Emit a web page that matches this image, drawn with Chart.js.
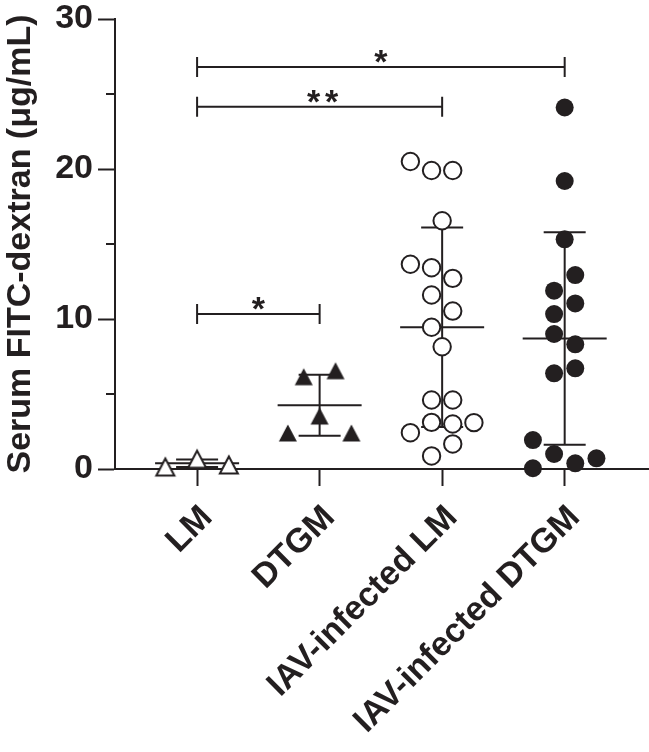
<!DOCTYPE html>
<html>
<head>
<meta charset="utf-8">
<script src="https://cdn.jsdelivr.net/npm/chart.js@4"></script>
<style>
  html, body { margin: 0; padding: 0; background: #fff; }
</style>
</head>
<body>
<canvas id="fitcChart" width="649" height="752"></canvas>
<script>
// group names on the x axis
const categories = ['LM', 'DTGM', 'IAV-infected LM', 'IAV-infected DTGM'];

// serum FITC-dextran per mouse (µg/mL) and the column slot each symbol sits in
const lmValues = [0.13, 0.65, 0.27];
const lmSlots = [-3, 0, 3];
const dtgmValues = [6.15, 6.55, 3.53, 2.4, 2.4];
const dtgmSlots = [-1.5, 1.5, 0, -3, 3];
const iavLmValues = [20.5, 19.9, 19.9, 16.55, 13.65, 13.42, 12.71, 11.6, 10.53, 9.45,
                     8.15, 4.6, 4.6, 3.11, 3.0, 3.09, 2.42, 1.67, 0.87];
const iavLmSlots = [-3, -1, 1, 0, -3, -1, 1, -1, 1, -1, 0, -1, 1, -1, 1, 3, -3, 1, -1];
const iavDtgmValues = [24.1, 19.2, 15.31, 12.93, 11.89, 11.04, 10.33, 9.0, 8.31, 6.71,
                       6.38, 1.93, 1.0, 0.71, 0.38, 0.05];
const iavDtgmSlots = [0, 0, 0, 1, -1, 1, -1, -1, 1, 1, -1, -3, -1, 3, 1, -3];

// mean and SD of each group
const groupMeans = [0.38, 4.25, 9.45, 8.7];
const groupSD = [0.25, 2.03, 6.65, 7.08];

// y axis ticks
const yTicks = [0, 10, 20, 30];
const yMinorTicks = [5, 15, 25];

// significance brackets (group numbers, height, label)
const bracketFrom = [1, 1, 1];
const bracketTo = [4, 3, 2];
const bracketY = [26.8, 24.15, 10.33];
const bracketLabels = ['*', '**', '*'];

const INK = '#231f20';
const FONT = "'Liberation Sans', Arial, Helvetica, sans-serif";
const SLOT = 0.0864; // width of one symbol column, in x axis units

function toPoints(values, slots, group) {
  return values.map((v, i) => ({ x: group + slots[i] * SLOT, y: v }));
}

// triangle symbols, centred on their bounding box like the original
function makeTriangle(filled) {
  const c = document.createElement('canvas');
  c.width = 24;
  c.height = 24;
  const ctx = c.getContext('2d');
  ctx.beginPath();
  ctx.moveTo(12, 3.5);
  ctx.lineTo(21, 20.5);
  ctx.lineTo(3, 20.5);
  ctx.closePath();
  if (filled) {
    ctx.fillStyle = INK;
    ctx.fill();
  } else {
    ctx.fillStyle = '#fff';
    ctx.fill();
    ctx.lineWidth = 2;
    ctx.strokeStyle = INK;
    ctx.stroke();
  }
  return c;
}

// mean line with SD whiskers, drawn under the symbols
const statsPlugin = {
  id: 'groupStats',
  beforeDatasetsDraw(chart) {
    const ctx = chart.ctx;
    const xs = chart.scales.x;
    const ys = chart.scales.y;
    ctx.save();
    ctx.strokeStyle = INK;
    ctx.lineWidth = 2;
    groupMeans.forEach((m, i) => {
      const x = xs.getPixelForValue(i + 1);
      const yMean = ys.getPixelForValue(m);
      const yHi = ys.getPixelForValue(m + groupSD[i]);
      const yLo = ys.getPixelForValue(Math.max(0, m - groupSD[i]));
      ctx.beginPath();
      ctx.moveTo(x - 42, yMean); ctx.lineTo(x + 42, yMean);
      ctx.moveTo(x, yHi); ctx.lineTo(x, yLo);
      ctx.moveTo(x - 21, yHi); ctx.lineTo(x + 21, yHi);
      ctx.moveTo(x - 21, yLo); ctx.lineTo(x + 21, yLo);
      ctx.stroke();
    });
    ctx.restore();
  }
};

// minor y ticks and significance brackets
const extrasPlugin = {
  id: 'extras',
  afterDraw(chart) {
    const ctx = chart.ctx;
    const xs = chart.scales.x;
    const ys = chart.scales.y;
    const left = chart.chartArea.left;
    ctx.save();
    ctx.strokeStyle = INK;
    ctx.fillStyle = INK;
    ctx.lineWidth = 2;
    yMinorTicks.forEach(v => {
      const y = ys.getPixelForValue(v);
      ctx.beginPath();
      ctx.moveTo(left - 9, y);
      ctx.lineTo(left, y);
      ctx.stroke();
    });
    ctx.font = 'bold 34px ' + FONT;
    ctx.textAlign = 'center';
    ctx.textBaseline = 'alphabetic';
    bracketY.forEach((v, i) => {
      const x1 = xs.getPixelForValue(bracketFrom[i]);
      const x2 = xs.getPixelForValue(bracketTo[i]);
      const y = ys.getPixelForValue(v);
      ctx.beginPath();
      ctx.moveTo(x1, y); ctx.lineTo(x2, y);
      ctx.moveTo(x1, y - 10); ctx.lineTo(x1, y + 10);
      ctx.moveTo(x2, y - 10); ctx.lineTo(x2, y + 10);
      ctx.stroke();
      const n = bracketLabels[i].length;
      const mid = (x1 + x2) / 2 + (n - 1) * 3;
      for (let k = 0; k < n; k++) {
        ctx.fillText('*', mid + (k - (n - 1) / 2) * 18, y + 6);
      }
    });
    ctx.restore();
  }
};

const chart = new Chart('fitcChart', {
  type: 'scatter',
  data: {
    datasets: [
      {
        label: categories[0],
        data: toPoints(lmValues, lmSlots, 1),
        pointStyle: makeTriangle(false),
      },
      {
        label: categories[1],
        data: toPoints(dtgmValues, dtgmSlots, 2),
        pointStyle: makeTriangle(true),
      },
      {
        label: categories[2],
        data: toPoints(iavLmValues, iavLmSlots, 3),
        pointStyle: 'circle',
        pointRadius: 8.7,
        borderWidth: 2,
        borderColor: INK,
        backgroundColor: '#fff',
      },
      {
        label: categories[3],
        data: toPoints(iavDtgmValues, iavDtgmSlots, 4),
        pointStyle: 'circle',
        pointRadius: 9,
        borderWidth: 0,
        borderColor: INK,
        backgroundColor: INK,
      }
    ]
  },
  options: {
    responsive: false,
    animation: false,
    devicePixelRatio: 1,
    clip: false,
    layout: {
      autoPadding: false,
      padding: { top: 19, right: 1, left: 0, bottom: 0 }
    },
    plugins: {
      legend: { display: false },
      tooltip: { enabled: false }
    },
    scales: {
      x: {
        type: 'linear',
        min: 0.33,
        max: 4.68,
        afterBuildTicks: scale => {
          scale.ticks = categories.map((c, i) => ({ value: i + 1 }));
        },
        afterFit: scale => {
          scale.height = 283;
          scale.paddingLeft = 0;
          scale.paddingRight = 0;
        },
        border: { display: true, color: INK, width: 2 },
        grid: {
          display: true,
          drawOnChartArea: false,
          drawTicks: true,
          tickLength: 17,
          tickColor: INK,
          tickWidth: 2
        },
        ticks: {
          autoSkip: false,
          minRotation: 45,
          maxRotation: 45,
          padding: 12,
          labelOffset: 10,
          color: INK,
          font: { family: FONT, size: 34, weight: 'bold' },
          callback: value => categories[value - 1]
        }
      },
      y: {
        min: 0,
        max: 30,
        afterBuildTicks: scale => {
          scale.ticks = yTicks.map(v => ({ value: v }));
        },
        afterFit: scale => {
          scale.width = 115;
          scale.paddingTop = 0;
          scale.paddingBottom = 0;
        },
        border: { display: true, color: INK, width: 2 },
        grid: {
          display: true,
          drawOnChartArea: false,
          drawTicks: true,
          tickLength: 17,
          tickColor: INK,
          tickWidth: 2
        },
        ticks: {
          padding: 5,
          color: INK,
          font: { family: FONT, size: 34, weight: 'bold' }
        },
        title: {
          display: true,
          text: 'Serum FITC-dextran (μg/mL)',
          color: INK,
          padding: { top: 0, bottom: 0 },
          font: { family: FONT, size: 34, weight: 'bold', lineHeight: 1.2 }
        }
      }
    }
  },
  plugins: [statsPlugin, extrasPlugin]
});
</script>
</body>
</html>
